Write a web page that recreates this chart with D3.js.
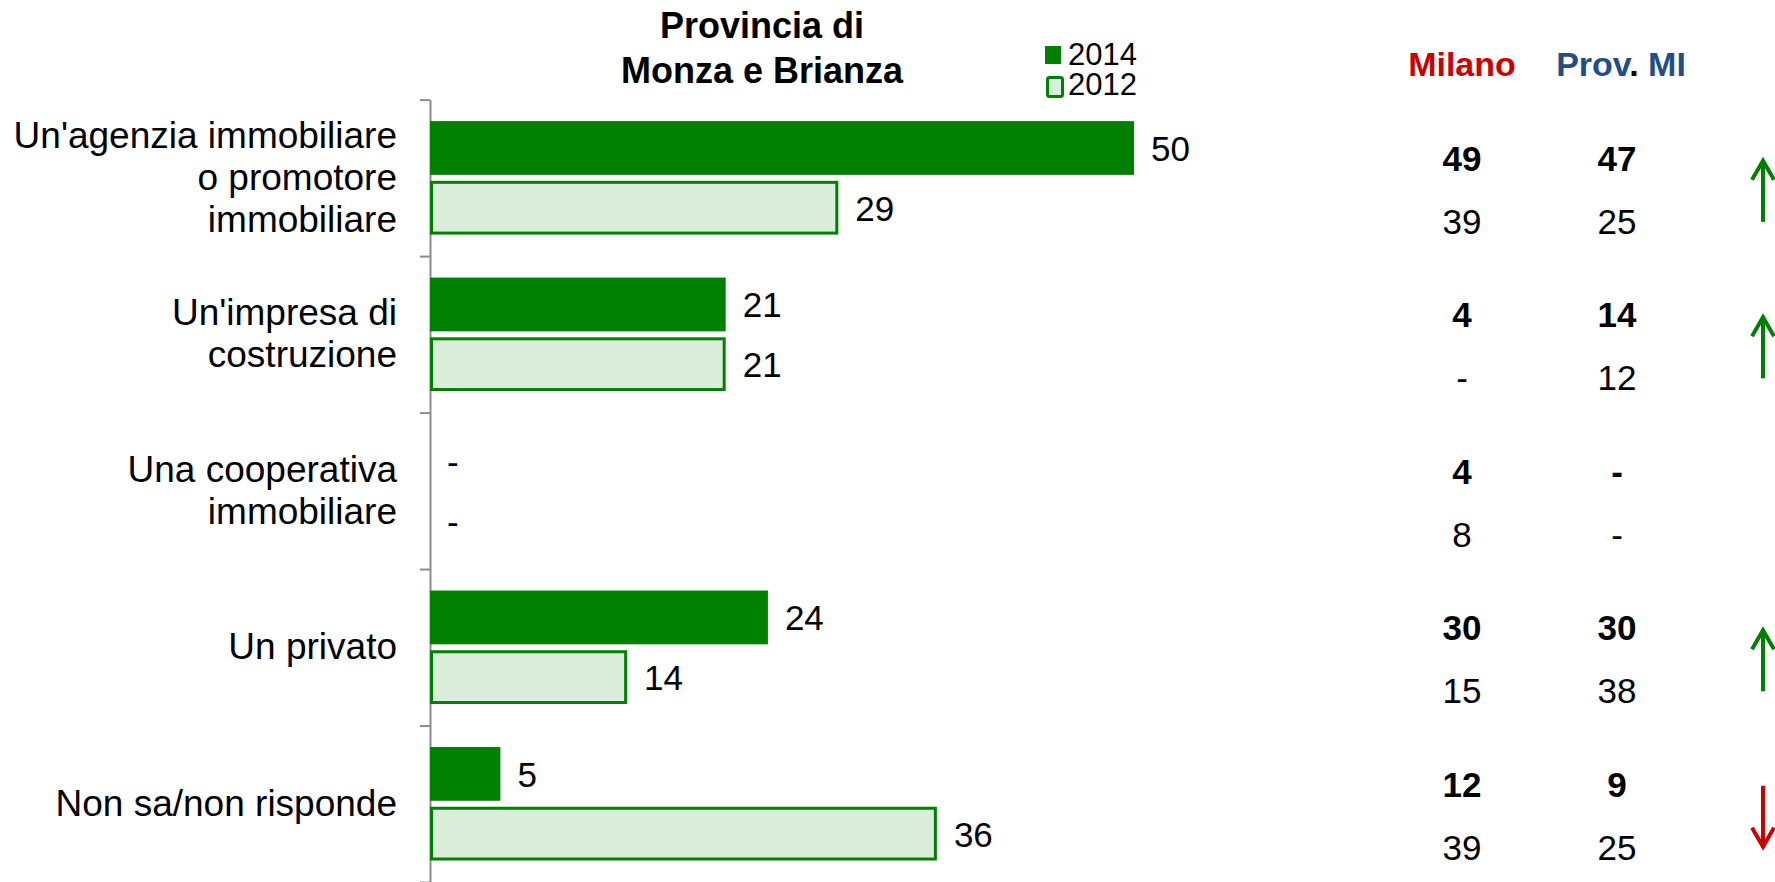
<!DOCTYPE html>
<meta charset="utf-8">
<script src="https://d3js.org/d3.v7.min.js"></script>
<style>
  body { margin: 0; background: #fff; }
  text { font-family: "Liberation Sans", Arial, sans-serif; }
</style>
<div id="my_dataviz"></div>
<script>
    // data (null = "-")
    var categories = [
        ["Un'agenzia immobiliare", "o promotore", "immobiliare"],
        ["Un'impresa di", "costruzione"],
        ["Una cooperativa", "immobiliare"],
        ["Un privato"],
        ["Non sa/non risponde"]
    ]
    var series = ["2014", "2012"]
    var values2014 = [50, 21, null, 24, 5]
    var values2012 = [29, 21, null, 14, 36]
    var milano2014 = [49, 4, 4, 30, 12]
    var milano2012 = [39, null, 8, 15, 39]
    var provMI2014 = [47, 14, null, 30, 9]
    var provMI2012 = [25, 12, null, 38, 25]
    var trend = ["up", "up", null, "up", "down"]

    var width = 1775
    var height = 882

    var svg = d3.select("#my_dataviz")
        .append("svg")
        .attr("width", width)
        .attr("height", height)

    var idx = d3.range(categories.length)

    // vertical band per category
    var y = d3.scaleBand()
        .domain(idx)
        .range([99.6, 882])

    // two bars inside each band
    var yInner = d3.scaleBand()
        .domain(series)
        .range([21.5, y.bandwidth() - 21.5])
        .paddingInner(0.1)

    var x = d3.scaleLinear()
        .domain([0, 50])
        .range([430, 1134])

    // axis with ticks between categories
    var yEdge = d3.scaleLinear()
        .domain([0, categories.length])
        .range([y.range()[0], y.range()[1]])

    var axis = svg.append("g")
        .attr("transform", "translate(" + x(0) + ",0)")
        .call(d3.axisLeft(yEdge).tickValues(d3.range(categories.length + 1)).tickFormat("").tickSize(10).tickSizeOuter(0))
    axis.selectAll("path, line").attr("stroke", "#8c8c8c").attr("stroke-width", 2)

    var rows = idx.map(function(i) {
        return { i: i, v: { "2014": values2014[i], "2012": values2012[i] } }
    })

    var groups = svg.selectAll(".cat")
        .data(rows)
        .enter()
        .append("g")
        .attr("transform", function(d) { return "translate(0," + y(d.i) + ")" })

    // category labels
    groups.append("text")
        .attr("text-anchor", "end")
        .attr("font-size", 37)
        .attr("fill", "#000")
        .selectAll("tspan")
        .data(function(d) {
            var lines = categories[d.i]
            return lines.map(function(l, k) { return { t: l, k: k, n: lines.length } })
        })
        .enter()
        .append("tspan")
        .attr("x", 397)
        .attr("y", function(d) { return y.bandwidth() / 2 + 12 + (d.k - (d.n - 1) / 2) * 42 })
        .text(function(d) { return d.t })

    series.forEach(function(s) {
        var bars = groups.filter(function(d) { return d.v[s] != null })
        bars.append("rect")
            .attr("x", s == "2012" ? x(0) + 1.5 : x(0))
            .attr("y", yInner(s) + (s == "2012" ? 1.5 : 0))
            .attr("width", function(d) { return x(d.v[s]) - x(0) - (s == "2012" ? 3 : 0) })
            .attr("height", yInner.bandwidth() - (s == "2012" ? 3 : 0))
            .attr("fill", s == "2014" ? "#008000" : "#dbeedb")
            .attr("stroke", s == "2014" ? "none" : "#008000")
            .attr("stroke-width", 3)

        groups.append("text")
            .attr("x", function(d) { return d.v[s] == null ? x(0) + 17 : x(d.v[s]) + 17 })
            .attr("y", yInner(s) + yInner.bandwidth() / 2 + 13)
            .attr("font-size", 35)
            .text(function(d) { return d.v[s] == null ? "-" : d.v[s] })
    })

    // title
    var title = svg.append("text")
        .attr("text-anchor", "middle")
        .attr("font-size", 36)
        .attr("font-weight", "bold")
    title.append("tspan").attr("x", 762).attr("y", 38).text("Provincia di")
    title.append("tspan").attr("x", 762).attr("y", 83).text("Monza e Brianza")

    // legend
    var legend = svg.selectAll(".legend")
        .data(series)
        .enter()
        .append("g")
        .attr("transform", function(d, i) { return "translate(1045," + (46 + i * 30) + ")" })
    legend.append("rect")
        .attr("x", function(d) { return d == "2012" ? 2.5 : 0 })
        .attr("y", function(d) { return d == "2012" ? 1.5 : 0 })
        .attr("width", function(d) { return d == "2012" ? 15 : 16 })
        .attr("height", function(d) { return d == "2012" ? 19 : 18 })
        .attr("rx", function(d) { return d == "2012" ? 2 : 0 })
        .attr("fill", function(d) { return d == "2014" ? "#008000" : "#dbeedb" })
        .attr("stroke", function(d) { return d == "2014" ? "none" : "#008000" })
        .attr("stroke-width", 3)
    legend.append("text")
        .attr("x", 23)
        .attr("y", 19)
        .attr("font-size", 31)
        .text(function(d) { return d })

    // comparison columns
    var colX = { milano: 1462, prov: 1617 }
    svg.append("text")
        .attr("x", colX.milano).attr("y", 76)
        .attr("text-anchor", "middle")
        .attr("font-size", 34).attr("font-weight", "bold")
        .attr("fill", "#cc0000")
        .text("Milano")
    var prov = svg.append("text")
        .attr("x", 1621).attr("y", 76)
        .attr("text-anchor", "middle")
        .attr("font-size", 34).attr("font-weight", "bold")
        .attr("fill", "#1f4e8a")
    prov.append("tspan").text("Prov")
    prov.append("tspan").attr("fill", "#000").text(".")
    prov.append("tspan").text(" MI")

    function column(vals, cx, dy, bold) {
        svg.selectAll(null)
            .data(vals)
            .enter()
            .append("text")
            .attr("x", cx)
            .attr("y", function(d, i) { return y(i) + y.bandwidth() / 2 + dy })
            .attr("text-anchor", "middle")
            .attr("font-size", 35)
            .attr("font-weight", bold ? "bold" : "normal")
            .text(function(d) { return d == null ? "-" : d })
    }
    column(milano2014, colX.milano, -7, true)
    column(milano2012, colX.milano, 56, false)
    column(provMI2014, colX.prov, -7, true)
    column(provMI2012, colX.prov, 56, false)

    // trend arrows
    var arrows = svg.selectAll(".arrow")
        .data(trend.map(function(t, i) { return { t: t, i: i } }).filter(function(d) { return d.t != null }))
        .enter()
        .append("g")
        .attr("transform", function(d) { return "translate(1763," + (y(d.i) + y.bandwidth() / 2) + ")" })
        .attr("fill", "none")
        .attr("stroke", function(d) { return d.t == "up" ? "#008000" : "#cc0000" })
        .attr("stroke-width", 4)
    arrows.append("line")
        .attr("x1", 0).attr("x2", 0)
        .attr("y1", -18).attr("y2", 44)
    arrows.append("path")
        .attr("d", function(d) {
            return d.t == "up" ? "M-11,2 L0,-17 L11,2" : "M-11,24 L0,43 L11,24"
        })
</script>
